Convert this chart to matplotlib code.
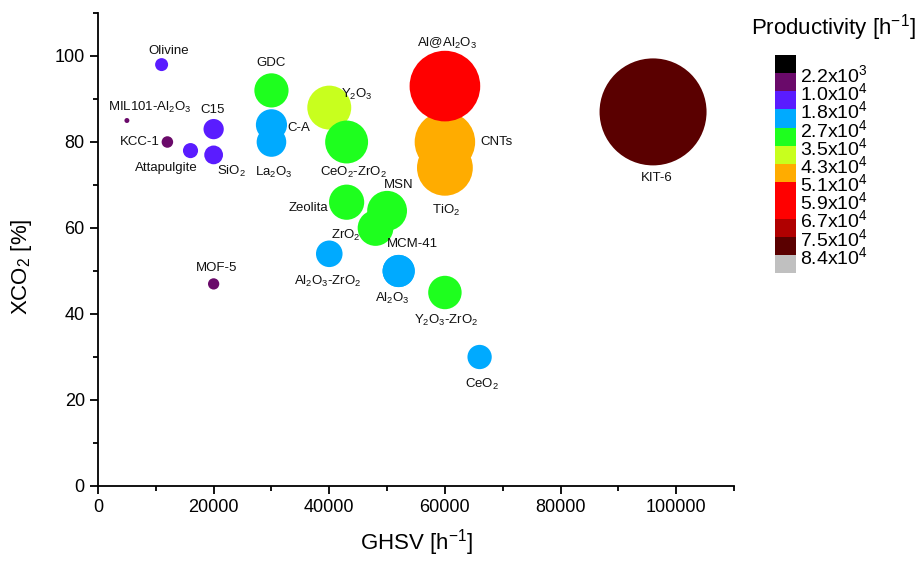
import matplotlib
matplotlib.use("Agg")
import matplotlib.pyplot as plt
import numpy as np
from matplotlib.colors import ListedColormap, BoundaryNorm
from matplotlib.cm import ScalarMappable
from matplotlib.ticker import MultipleLocator

plt.rcParams['font.family'] = ['Liberation Sans', 'DejaVu Sans']
plt.rcParams['mathtext.default'] = 'regular'

# ---- data ----
labels = ['Olivine', 'MIL101-Al$_2$O$_3$', 'KCC-1', 'Attapulgite', 'C15', 'SiO$_2$',
          'MOF-5', 'GDC', 'C-A', 'La$_2$O$_3$', 'Y$_2$O$_3$', 'CeO$_2$-ZrO$_2$',
          'Zeolita', 'MSN', 'ZrO$_2$', 'MCM-41', 'Al$_2$O$_3$-ZrO$_2$', 'Al$_2$O$_3$',
          'Y$_2$O$_3$-ZrO$_2$', 'CeO$_2$', 'TiO$_2$', 'CNTs', 'Al@Al$_2$O$_3$', 'KIT-6']
ghsv = [11000, 5000, 12000, 16000, 20000, 20000,
        20000, 30000, 30000, 30000, 40000, 43000,
        43000, 50000, 48000, 52000, 40000, 52000,
        60000, 66000, 60000, 60000, 60000, 96000]
xco2 = [98, 85, 80, 78, 83, 77,
        47, 92, 84, 80, 88, 80,
        66, 64, 60, 50, 54, 50,
        45, 30, 74, 80, 93, 87]
# label offsets (pixels) relative to bubble centre
label_dx = [7, 23, -28, -24, -1, 18, 3, 0, 27, 2, 28, 7, -38, 12, -30, 14, -2, -6, 1, 2, 1, 52, 2, 4]
label_dy = [14, 13, 0, -17, 19, -17, 16, 27, -3, -30, 13, -30, -6, 26, -7, 27, -28, -27, -28, -27, -43, 0, 43, -66]

prod_bounds = [0, 2.2e3, 1.0e4, 1.8e4, 2.7e4, 3.5e4, 4.3e4, 5.1e4, 5.9e4, 6.7e4, 7.5e4, 8.4e4, 1.0e5]
prod_ticklabels = ['2.2x10$^{3}$', '1.0x10$^{4}$', '1.8x10$^{4}$', '2.7x10$^{4}$', '3.5x10$^{4}$',
                   '4.3x10$^{4}$', '5.1x10$^{4}$', '5.9x10$^{4}$', '6.7x10$^{4}$', '7.5x10$^{4}$',
                   '8.4x10$^{4}$']
prod_colors = ['#000000', '#6a0a6a', '#5a1cff', '#00aaff', '#1eff1e', '#c8ff1e',
               '#ffac00', '#ff0000', '#ff0000', '#b00000', '#5a0000', '#c0c0c0']

ghsv_a = np.array(ghsv, float)
xco2_a = np.array(xco2, float)
prod = ghsv_a * xco2_a / 100.0

cmap = ListedColormap(prod_colors)
norm = BoundaryNorm(prod_bounds, cmap.N)

fig = plt.figure(figsize=(9.22, 5.64), dpi=100)
ax = fig.add_axes([98/922, 78/564, 636/922, 473/564])

# bubble diameter in pixels grows with productivity
diam_px = 107.0 * (prod / 83520.0) ** 1.03
sizes = (diam_px * 0.72) ** 2

for i in range(len(labels)):
    ax.scatter(ghsv_a[i], xco2_a[i], s=sizes[i], c=[prod[i]], cmap=cmap, norm=norm,
               edgecolors='none', zorder=2 + i * 0.01)
    ax.annotate(labels[i], xy=(ghsv_a[i], xco2_a[i]),
                xytext=(label_dx[i] * 0.72, label_dy[i] * 0.72), textcoords='offset points',
                ha='center', va='center', fontsize=9.5, color='#111111', zorder=5)

ax.set_xlim(0, 110000)
ax.set_ylim(0, 110)
ax.xaxis.set_major_locator(MultipleLocator(20000))
ax.xaxis.set_minor_locator(MultipleLocator(10000))
ax.yaxis.set_major_locator(MultipleLocator(20))
ax.yaxis.set_minor_locator(MultipleLocator(10))
for s in ['top', 'right']:
    ax.spines[s].set_visible(False)
for s in ['left', 'bottom']:
    ax.spines[s].set_linewidth(1.3)
ax.tick_params(which='major', direction='out', length=6, width=1.3, labelsize=13)
ax.tick_params(which='minor', direction='out', length=3.5, width=1.3)
ax.set_xlabel('GHSV [h$^{-1}$]', fontsize=16, labelpad=8)
ax.set_ylabel('XCO$_2$ [%]', fontsize=16)
ax.yaxis.set_label_coords(-0.1, 0.463)

# colorbar
cax = fig.add_axes([775/922, (564-273)/564, 21/922, 218/564])
sm = ScalarMappable(norm=norm, cmap=cmap)
cb = fig.colorbar(sm, cax=cax, spacing='uniform', ticks=prod_bounds[1:-1])
cb.ax.minorticks_off()
cb.ax.invert_yaxis()
cb.set_ticklabels(prod_ticklabels)
cb.outline.set_visible(False)
cb.ax.tick_params(which='both', length=0, labelsize=14, pad=3)
fig.text(833/922, 1 - 28/564, 'Productivity [h$^{-1}$]', ha='center', va='center', fontsize=16)

fig.savefig('out.png', dpi=100)
